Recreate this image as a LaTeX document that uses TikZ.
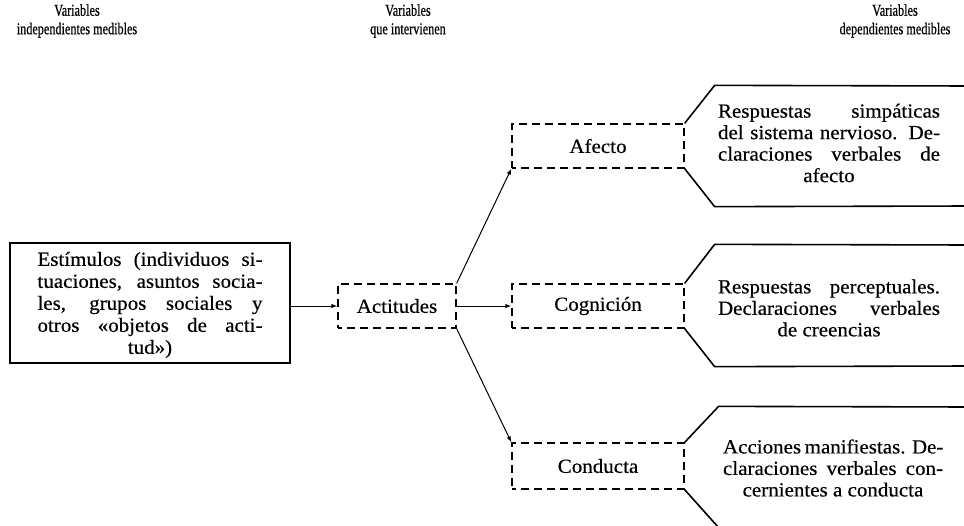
\documentclass[tikz,border=0pt]{standalone}
\usepackage{fontspec}
\setmainfont{Liberation Serif}[FakeStretch=1.05, FakeBold=0.4]
\newfontfamily\headfont{Liberation Serif}[FakeStretch=0.74, FakeBold=0.6]
\usetikzlibrary{arrows.meta}

% a line of text spread to a fixed width, as in justified type
\newcommand{\spreadline}[2]{\makebox[#1][s]{#2}}

\begin{document}
\begin{tikzpicture}[x=1pt,y=-1pt,
  head/.style={font=\headfont\fontsize{16.5}{18.5}\selectfont, align=center, inner sep=0},
  body/.style={font=\fontsize{20}{21.5}\selectfont, align=center, inner sep=0},
  solidbox/.style={draw, line width=1.6pt, inner sep=0},
  dashbox/.style={draw, line width=1.3pt, dash pattern=on 8pt off 5pt, dash phase=4pt,
                  minimum width=172pt, minimum height=44pt, inner sep=0,
                  font=\fontsize{20}{21.5}\selectfont},
  outline/.style={line width=1.6pt, line join=miter},
  link/.style={line width=1pt, -{Latex[length=6pt,width=4.5pt]}}
]
\useasboundingbox (0,0) rectangle (964,525);
\clip (0,0) rectangle (964,525);

% column headings
\node[head] (h1) at (77,21) {Variables\\independientes medibles};
\node[head] (h2) at (408,21) {Variables\\que intervienen};
\node[head] (h3) at (895,21) {Variables\\dependientes medibles};

% stimulus box
\node[solidbox, minimum width=280pt, minimum height=120pt] (stim) at (150,303) {};
\node[body, font=\fontsize{20}{22}\selectfont] (stimtext) at (150,305) {%
  \spreadline{225pt}{Estímulos (individuos si-}\\
  \spreadline{225pt}{tuaciones, asuntos socia-}\\
  \spreadline{225pt}{les, grupos sociales y}\\
  \spreadline{225pt}{otros «objetos de acti-}\\
  tud»)};

% intervening variables
\node[dashbox, minimum width=118pt] (act) at (397,306) {Actitudes};
\node[dashbox] (afe) at (598,146) {Afecto};
\node[dashbox] (cog) at (598,306) {Cognición};
\node[dashbox, minimum height=46pt] (con) at (598,466) {Conducta};

% measured responses: open-ended tag shapes
\draw[outline] (afe.north east) -- ++(30,-38) coordinate (r1a) -- (970,86);
\draw[outline] (afe.south east) -- ++(30,38) coordinate (r1b) -- (970,206);
\draw[outline] (cog.north east) -- ++(30,-39) coordinate (r2a) -- (970,245);
\draw[outline] (cog.south east) -- ++(30,38) coordinate (r2b) -- (970,366);
\draw[outline] (con.north east) -- ++(34,-36) coordinate (r3a) -- (970,407);
\draw[outline] (con.south east) -- ++(34,38) coordinate (r3b) -- (970,527);

\node[body] (resp1) at (829,143) {%
  \spreadline{222pt}{Respuestas simpáticas}\\
  \spreadline{222pt}{del sistema nervioso. De-}\\
  \spreadline{222pt}{claraciones verbales de}\\
  afecto};
\node[body] (resp2) at (829,308) {%
  \spreadline{222pt}{Respuestas perceptuales.}\\
  \spreadline{222pt}{Declaraciones verbales}\\
  de creencias};
\node[body] (resp3) at (833,468) {%
  \spreadline{220pt}{Acciones manifiestas. De-}\\
  \spreadline{220pt}{claraciones verbales con-}\\
  cernientes a conducta};

% connectors
\draw[link] (stim.east |- act.west) -- (act.west);
\draw[link] (act.east) -- (cog.west);
\draw[link] (act.north east) -- (afe.south west);
\draw[link] (act.south east) -- (con.north west);
\end{tikzpicture}
\end{document}
